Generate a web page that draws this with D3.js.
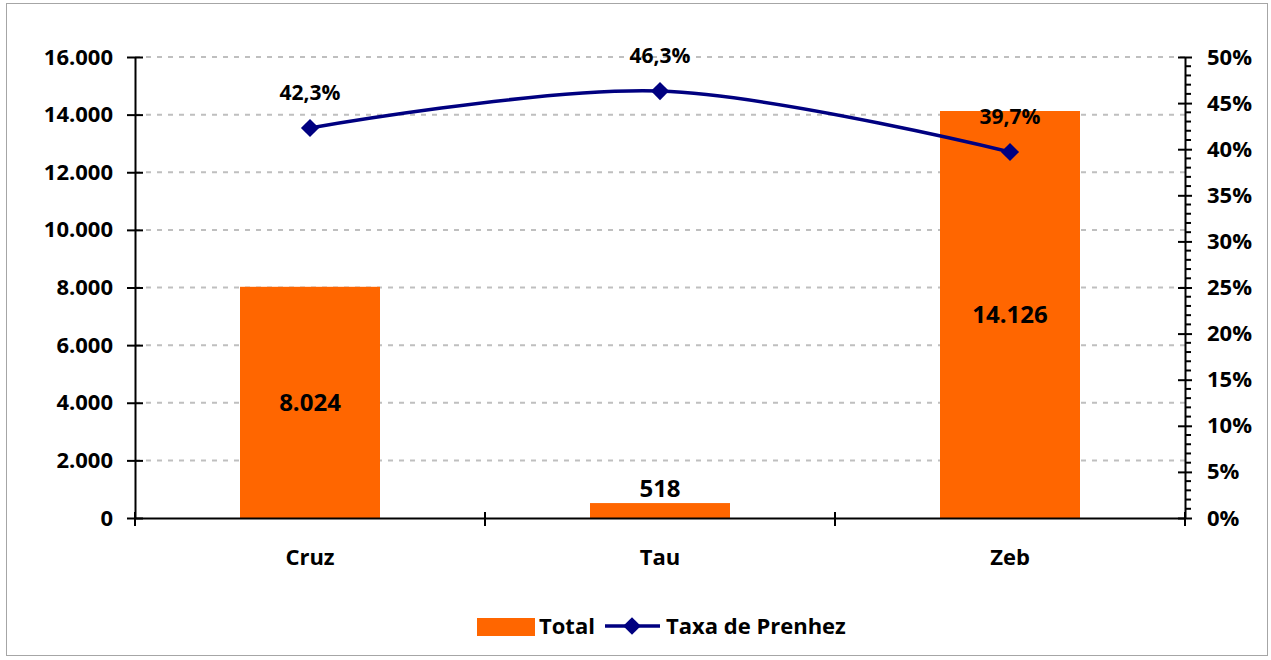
<!DOCTYPE html>
<html><head><meta charset="utf-8">
<script src="https://cdn.jsdelivr.net/npm/d3@7"></script>
<style>
html,body{margin:0;padding:0;background:#fff;}
text{font-family:"Open Sans",sans-serif;font-weight:bold;fill:#000;}
</style></head>
<body><svg id="c" width="1271" height="660"></svg>
<script>
const categories = ["Cruz","Tau","Zeb"];
const totals = [8024, 518, 14126];
const totalLabels = ["8.024","518","14.126"];
const rates = [0.423, 0.463, 0.397];
const rateLabels = ["42,3%","46,3%","39,7%"];
const leftTicks = [0,2000,4000,6000,8000,10000,12000,14000,16000];
const rightTicks = [0,0.05,0.10,0.15,0.20,0.25,0.30,0.35,0.40,0.45,0.50];
const seriesNames = ["Total","Taxa de Prenhez"];

const svg = d3.select("#c");
svg.append("rect").attr("x",6.5).attr("y",3.5).attr("width",1261).attr("height",652)
  .attr("fill","#fff").attr("stroke","#a6a6a6").attr("stroke-width",1);

const L=135,R=1185,T=57,B=518;
const x = d3.scaleBand().domain(categories).range([L,R]).paddingInner(0).paddingOuter(0);
const yL = d3.scaleLinear().domain([0,16000]).range([B,T]);
const yR = d3.scaleLinear().domain([0,0.5]).range([B,T]);
const fmtL = d => d3.format(",")(d).replace(/,/g,".");
const fmtR = d => Math.round(d*100)+"%";

// gridlines
svg.append("g").selectAll("line").data(leftTicks.filter(d=>d>0)).join("line")
  .attr("x1",L).attr("x2",R).attr("y1",d=>yL(d)).attr("y2",d=>yL(d))
  .attr("stroke","#bfbfbf").attr("stroke-width",2).attr("stroke-dasharray","5,6");

// bars
const bw = x.bandwidth()*0.4;
svg.append("g").selectAll("rect").data(categories).join("rect")
  .attr("x",(d)=>x(d)+x.bandwidth()/2-bw/2).attr("width",bw)
  .attr("y",(d,i)=>yL(totals[i])).attr("height",(d,i)=>B-yL(totals[i]))
  .attr("fill","#ff6600");

// axes
const gL = svg.append("g").attr("transform",`translate(${L},0)`)
  .call(d3.axisLeft(yL).tickValues(leftTicks).tickFormat(fmtL).tickSize(8).tickSizeOuter(0));
gL.selectAll(".tick line").attr("x2",-8).attr("x1",8);
const gR = svg.append("g").attr("transform",`translate(${R},0)`)
  .call(d3.axisRight(yR).tickValues(rightTicks).tickFormat(fmtR).tickSize(7).tickSizeOuter(0));
gR.selectAll(".tick line").attr("x1",-7).attr("x2",7);
// minor ticks
const minor = d3.range(0,51).filter(v=>v%5!==0).map(v=>v/100);
svg.append("g").selectAll("line").data(minor).join("line")
  .attr("x1",R).attr("x2",R+6).attr("y1",d=>yR(d)).attr("y2",d=>yR(d))
  .attr("stroke","#000").attr("stroke-width",2);
const gX = svg.append("g").attr("transform",`translate(0,${B})`)
  .call(d3.axisBottom(x).tickSize(0).tickSizeOuter(0));
gX.selectAll(".tick text").attr("y",47).attr("dy",0);
// category boundary ticks
svg.append("g").selectAll("line").data(d3.range(0,4)).join("line")
  .attr("x1",i=>L+i*x.bandwidth()).attr("x2",i=>L+i*x.bandwidth())
  .attr("y1",B-6).attr("y2",B+8).attr("stroke","#000").attr("stroke-width",2);

[gL,gR,gX].forEach(g=>{
  g.selectAll("path.domain").attr("stroke","#000").attr("stroke-width",2);
  g.selectAll(".tick line").attr("stroke","#000").attr("stroke-width",2);
  g.selectAll("text").style("font-family","'Open Sans',sans-serif").style("font-weight","bold").style("font-size","22px").attr("fill","#000");
});
gL.selectAll(".tick text").attr("x",-22);
gR.selectAll(".tick text").attr("x",22);

// bar labels
svg.append("g").selectAll("text").data(categories).join("text")
  .attr("x",d=>x(d)+x.bandwidth()/2)
  .attr("y",(d,i)=> totals[i]<3000 ? yL(totals[i])-6 : (yL(totals[i])+B)/2)
  .attr("dy",(d,i)=> totals[i]<3000 ? "0" : "0.35em")
  .attr("text-anchor","middle").style("font-size","24px").text((d,i)=>totalLabels[i]);

// line
const pts = categories.map((c,i)=>[x(c)+x.bandwidth()/2, yR(rates[i])]);
svg.append("path").attr("d",d3.line().curve(d3.curveCardinal.tension(0))(pts))
  .attr("fill","none").attr("stroke","#000080").attr("stroke-width",3.5);
const diamond = d3.symbol().type(d3.symbolDiamond2).size(210);
svg.append("g").selectAll("path").data(pts).join("path")
  .attr("transform",d=>`translate(${d[0]},${d[1]})`).attr("d",diamond).attr("fill","#000080");
svg.append("g").selectAll("text").data(pts).join("text")
  .attr("x",d=>d[0]).attr("y",d=>d[1]-28).attr("text-anchor","middle")
  .style("font-size","21px").text((d,i)=>rateLabels[i]);

// legend
const lg = svg.append("g");
lg.append("rect").attr("x",477).attr("y",618).attr("width",58).attr("height",18).attr("fill","#ff6600");
lg.append("text").attr("x",539).attr("y",634).style("font-size","22px").text(seriesNames[0]);
lg.append("line").attr("x1",605).attr("x2",660).attr("y1",626).attr("y2",626).attr("stroke","#000080").attr("stroke-width",3.5);
lg.append("path").attr("transform","translate(632,626)").attr("d",d3.symbol().type(d3.symbolDiamond2).size(200)).attr("fill","#000080");
lg.append("text").attr("x",666).attr("y",634).style("font-size","22px").text(seriesNames[1]);
</script></body></html>
